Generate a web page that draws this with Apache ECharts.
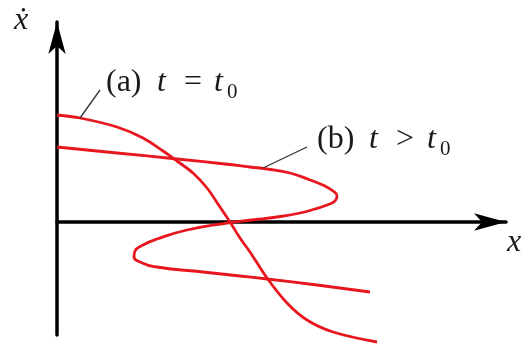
<!DOCTYPE html>
<html>
<head>
<meta charset="utf-8">
<script src="https://cdn.jsdelivr.net/npm/echarts@6/dist/echarts.min.js"></script>
<style>html,body{margin:0;padding:0;background:#fff;}</style>
</head>
<body>
<div id="main" style="width:525px;height:347px;"></div>
<script type="text/javascript">
// phase space points (x, xdot), origin where the axes cross
var curveA = [[0,107],[23,104],[60,95],[86,84],[106,71],[120,61],[136,49],[150,34],[163,15],[173,0],
    [183,-16],[193,-30],[210,-56],[230,-81],[250,-98],[276,-110],[320,-120]];
var curveB = [[0,75],[60,69],[120,63],[168,58],[193,55],[210,53],[233,49],[253,42],[268,36],[276,31],
    [280,26],[278,21],[270,17],[258,13],[243,9],[220,5],[195,2],[170,-1],[130,-8],[100,-17],[86,-23],
    [78,-29],[77,-35],[83,-40],[100,-45],[146,-50],[183,-54],[210,-57],[260,-63],[313,-70]];
var leaderA = [[23,104],[43,132]];
var leaderB = [[206,54],[250,75]];
var xRange = [0, 449];
var yRange = [-113, 200];

var serif = '"Liberation Serif", "DejaVu Serif", serif';
var ink = '#1a1a1a';
var red = '#e8161e';

var myChart = echarts.init(document.getElementById('main'));

function axisLine() {
    return {
        show: true,
        symbol: ['none', 'arrow'],
        symbolSize: [13, 32],
        lineStyle: { color: '#000', width: 3.5 }
    };
}

// label like "(a) t = t0", token widths set the spacing
function lbl(pre, rel, widths, x, y) {
    var big = { fontSize: 32, fontFamily: serif, lineHeight: 40, verticalAlign: 'middle' };
    return {
        type: 'text', x: x, y: y,
        style: {
            text: '{p|' + pre + '}{t1|t}{op|' + rel + '}{t2|t}{s|0}',
            fill: ink,
            fontFamily: serif,
            verticalAlign: 'middle',
            rich: {
                p: Object.assign({ width: widths[0] }, big),
                t1: Object.assign({ width: widths[1], fontStyle: 'italic' }, big),
                op: Object.assign({ width: widths[2] }, big),
                t2: Object.assign({ width: widths[3], fontStyle: 'italic' }, big),
                s: { fontSize: 21, fontFamily: serif, lineHeight: 24, verticalAlign: 'bottom' }
            }
        }
    };
}

var option = {
    animation: false,
    grid: { left: 57, right: 19, top: 22, bottom: 12 },
    xAxis: {
        type: 'value', min: xRange[0], max: xRange[1],
        axisLine: axisLine(), axisTick: { show: false }, axisLabel: { show: false }, splitLine: { show: false }
    },
    yAxis: {
        type: 'value', min: yRange[0], max: yRange[1],
        axisLine: axisLine(), axisTick: { show: false }, axisLabel: { show: false }, splitLine: { show: false }
    },
    graphic: [
        { type: 'text', x: 21, y: 21, style: { text: 'ẋ', fill: ink, font: 'italic 32px ' + serif, align: 'center', verticalAlign: 'middle' } },
        { type: 'text', x: 514, y: 243, style: { text: 'x', fill: ink, font: 'italic 32px ' + serif, align: 'center', verticalAlign: 'middle' } },
        lbl('(a)', '=', [51, 27, 30, 13], 106, 83),
        lbl('(b)', '>', [52, 27, 31, 13], 317, 140)
    ],
    series: [
        { name: '(a)', type: 'line', data: curveA, smooth: 0.35, showSymbol: false, clip: false,
          lineStyle: { color: red, width: 2.8 } },
        { name: '(b)', type: 'line', data: curveB, smooth: 0.5, showSymbol: false, clip: false,
          lineStyle: { color: red, width: 2.8 } },
        { type: 'line', data: leaderA, showSymbol: false, lineStyle: { color: '#333', width: 1.3 } },
        { type: 'line', data: leaderB, showSymbol: false, lineStyle: { color: '#333', width: 1.3 } }
    ]
};

myChart.setOption(option);
</script>
</body>
</html>
